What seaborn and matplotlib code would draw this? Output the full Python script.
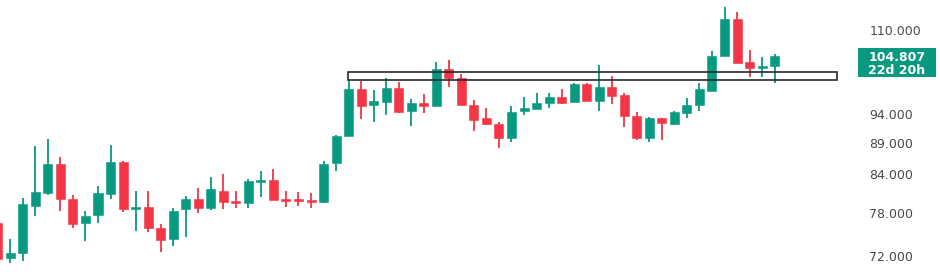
import matplotlib
matplotlib.use("Agg")
import matplotlib.pyplot as plt
from matplotlib.patches import Rectangle
from matplotlib.ticker import FixedLocator, FixedFormatter, NullLocator
import seaborn as sns
import numpy as np

# ---- data ----
opens = [76.56, 71.69, 72.37, 79.08, 80.99, 85.51, 80.08, 76.56, 77.76, 80.88,
         85.93, 78.64, 78.93, 75.84, 74.33, 78.64, 80.08, 78.74, 81.38, 79.82,
         79.48, 82.77, 83.03, 80.12, 80.12, 79.97, 79.63, 85.67, 90.18, 98.42,
         95.58, 96.17, 98.61, 94.50, 95.88, 95.40, 102.19, 100.47, 95.58, 93.22,
         92.18, 89.79, 94.56, 94.91, 95.99, 97.07, 96.17, 99.35, 96.34, 98.90,
         97.38, 93.67, 89.79, 93.22, 92.18, 94.20, 95.58, 98.16, 104.77, 112.23,
         103.53, 102.49, 102.88]
highs = [77.03, 74.29, 80.23, 88.50, 89.62, 86.74, 80.73, 78.39, 82.15, 88.67,
         86.09, 81.38, 81.34, 76.42, 78.83, 80.62, 81.75, 83.55, 83.97, 81.38,
         83.19, 84.44, 84.71, 81.38, 81.23, 80.99, 86.09, 90.35, 100.28, 100.02,
         98.29, 100.59, 99.83, 96.65, 97.56, 103.65, 103.98, 101.29, 96.47, 95.09,
         92.63, 95.40, 96.96, 97.69, 97.69, 98.42, 99.54, 99.65, 103.01, 100.91,
         97.69, 94.28, 93.50, 93.25, 94.50, 96.78, 99.54, 105.79, 114.91, 113.84,
         105.95, 104.51, 105.07]
lows = [71.19, 71.10, 71.33, 77.61, 80.73, 78.34, 75.84, 74.05, 76.56, 80.08,
        78.24, 75.50, 75.28, 72.59, 73.37, 74.66, 78.01, 78.49, 78.59, 78.83,
        78.83, 80.47, 79.90, 78.98, 79.13, 78.83, 79.55, 84.49, 90.10, 93.10,
        92.63, 93.80, 94.20, 91.88, 94.10, 95.35, 98.79, 95.50, 91.02, 92.10,
        88.21, 89.22, 93.80, 94.80, 94.98, 95.75, 96.10, 96.30, 94.56, 95.70,
        91.76, 89.50, 89.22, 89.50, 92.06, 93.32, 94.56, 98.10, 104.70, 103.40,
        100.78, 100.78, 99.54]
closes = [71.56, 72.37, 79.38, 81.14, 85.51, 80.08, 76.46, 77.61, 80.99, 85.93,
          78.59, 78.93, 75.84, 74.19, 78.39, 80.08, 78.83, 81.60, 79.72, 79.57,
          82.88, 83.03, 79.97, 79.87, 79.82, 79.63, 85.51, 90.23, 98.42, 95.40,
          96.29, 98.61, 94.38, 95.99, 95.40, 102.19, 100.47, 95.58, 92.92, 92.18,
          89.79, 94.38, 95.09, 95.99, 97.07, 95.99, 99.35, 96.34, 98.90, 97.25,
          93.62, 89.79, 93.22, 92.35, 94.28, 95.58, 98.42, 104.83, 112.23, 103.46,
          102.49, 102.88, 104.807]

zone_low, zone_high = 100.15, 101.61
zone_start, zone_end = 27.93, 66.95

tick_values = [72.0, 78.0, 84.0, 89.0, 94.0, 110.0]
tick_labels = ["72.000", "78.000", "84.000", "89.000", "94.000", "110.000"]
last_price_label = "104.807"
countdown_label = "22d 20h"

GREEN = "#089981"
RED = "#F23645"

sns.set_theme(style="white")
plt.rcParams['font.family'] = ['DejaVu Sans']

W, H = 940, 278
fig = plt.figure(figsize=(W / 100, H / 100), dpi=100)
ax_right_px = 850
ax = fig.add_axes([0, 0, ax_right_px / W, 1])

idx = np.arange(len(opens))
o = np.array(opens); c = np.array(closes)
hi = np.array(highs); lo = np.array(lows)
up = c >= o
colors = np.where(up, GREEN, RED)

ax.vlines(idx, lo, hi, colors=colors, linewidth=1.3, zorder=2)
bottoms = np.minimum(o, c)
heights = np.maximum(np.abs(c - o), 0.12)
ax.bar(idx, heights, bottom=bottoms, width=0.72, color=colors,
       edgecolor=colors, linewidth=0.4, zorder=3)

ax.add_patch(Rectangle((zone_start, zone_low), zone_end - zone_start,
                       zone_high - zone_low, fill=False, edgecolor="#2a2a2a",
                       linewidth=1.2, zorder=4))

ax.set_yscale("log")
ax.set_ylim(69.09, 116.35)
ax.set_xlim(0.178, (ax_right_px + 2.23) / 12.53)

ax.yaxis.tick_right()
ax.yaxis.set_major_locator(FixedLocator(tick_values))
ax.yaxis.set_major_formatter(FixedFormatter(tick_labels))
ax.yaxis.set_minor_locator(NullLocator())
ax.tick_params(axis="y", length=0, pad=14, labelsize=9, labelcolor="#4a4a4a")
ax.set_xticks([])
for s in ax.spines.values():
    s.set_visible(False)
ax.grid(False)

# last price label box
box_x0, box_y0, box_w, box_h = 858, 48, 78, 29
fig.patches.append(Rectangle((box_x0 / W, 1 - (box_y0 + box_h) / H), box_w / W, box_h / H,
                             transform=fig.transFigure, facecolor=GREEN,
                             edgecolor="none", zorder=5))
fig.text((box_x0 + box_w / 2) / W, 1 - 57 / H, last_price_label, color="white",
         ha="center", va="center", fontsize=9, fontweight="bold", zorder=6)
fig.text((box_x0 + box_w / 2) / W, 1 - 70 / H, countdown_label, color="white",
         ha="center", va="center", fontsize=9, fontweight="bold", zorder=6)

fig.savefig("out.png", dpi=100)
